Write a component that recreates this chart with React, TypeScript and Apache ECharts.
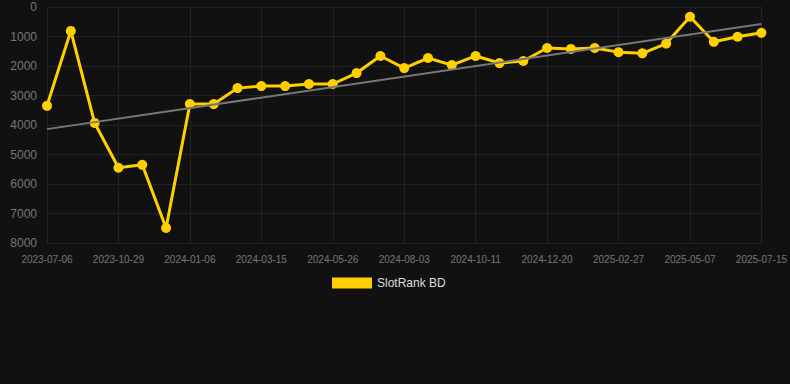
import React, { useEffect, useRef } from "react";
import * as echarts from "echarts";

const dates = [
  "2023-07-06", "2023-08-14", "2023-09-21", "2023-10-29", "2023-11-23", "2023-12-15",
  "2024-01-06", "2024-01-29", "2024-02-21", "2024-03-15", "2024-04-07", "2024-05-02",
  "2024-05-26", "2024-06-18", "2024-07-11", "2024-08-03", "2024-08-26", "2024-09-18",
  "2024-10-11", "2024-11-03", "2024-11-26", "2024-12-20", "2025-01-12", "2025-02-04",
  "2025-02-27", "2025-03-22", "2025-04-14", "2025-05-07", "2025-05-30", "2025-06-22",
  "2025-07-15",
];

const rankValues = [
  3350, 810, 3930, 5450, 5350, 7490, 3290, 3290, 2750, 2680, 2680, 2610, 2610, 2240,
  1660, 2070, 1730, 1970, 1660, 1900, 1830, 1390, 1420, 1390, 1530, 1570, 1240, 330,
  1180, 1010, 875,
];

const trendStart = 4140;
const trendEnd = 576;

const yTicks = { min: 0, max: 8000, interval: 1000 };

export default function App() {
  const ref = useRef<HTMLDivElement>(null);
  useEffect(() => {
    document.body.style.margin = "0";
    document.body.style.background = "#111111";
    if (!ref.current) return;
    const chart = echarts.init(ref.current, null, { renderer: "svg" });
    const trend = dates.map((_, i) =>
      i === 0 ? trendStart : i === dates.length - 1 ? trendEnd : null
    );
    chart.setOption({
      animation: false,
      backgroundColor: "#111111",
      grid: { left: 47, right: 28, top: 7, bottom: 141 },
      legend: {
        left: 327,
        top: 272,
        icon: "rect",
        itemWidth: 40,
        itemHeight: 11,
        itemGap: 10,
        data: ["SlotRank BD"],
        textStyle: { color: "#dddddd", fontSize: 12, fontFamily: "Arial, Liberation Sans, sans-serif" },
      },
      xAxis: {
        type: "category",
        data: dates,
        boundaryGap: false,
        axisLine: { show: false },
        axisTick: { show: false },
        axisLabel: {
          interval: 2,
          color: "#777777",
          fontSize: 10,
          margin: 11,
          fontFamily: "Arial, Liberation Sans, sans-serif",
        },
        splitLine: { show: true, interval: 2, lineStyle: { color: "#222222", width: 1 } },
      },
      yAxis: {
        type: "value",
        inverse: true,
        min: yTicks.min,
        max: yTicks.max,
        interval: yTicks.interval,
        axisLine: { show: false },
        axisTick: { show: false },
        axisLabel: {
          color: "#777777",
          fontSize: 12,
          margin: 10,
          formatter: (v: number) => String(v),
          fontFamily: "Arial, Liberation Sans, sans-serif",
        },
        splitLine: { show: true, lineStyle: { color: "#222222", width: 1 } },
      },
      series: [
        {
          name: "Trend",
          type: "line",
          data: trend,
          connectNulls: true,
          showSymbol: false,
          symbol: "none",
          lineStyle: { color: "#777777", width: 2 },
          z: 3,
          silent: true,
        },
        {
          name: "SlotRank BD",
          type: "line",
          data: rankValues,
          symbol: "circle",
          symbolSize: 10,
          itemStyle: { color: "#FFD000" },
          lineStyle: { color: "#FFD000", width: 3 },
          z: 2,
        },
      ],
    });
    return () => chart.dispose();
  }, []);
  return <div ref={ref} style={{ width: 790, height: 384 }} />;
}
